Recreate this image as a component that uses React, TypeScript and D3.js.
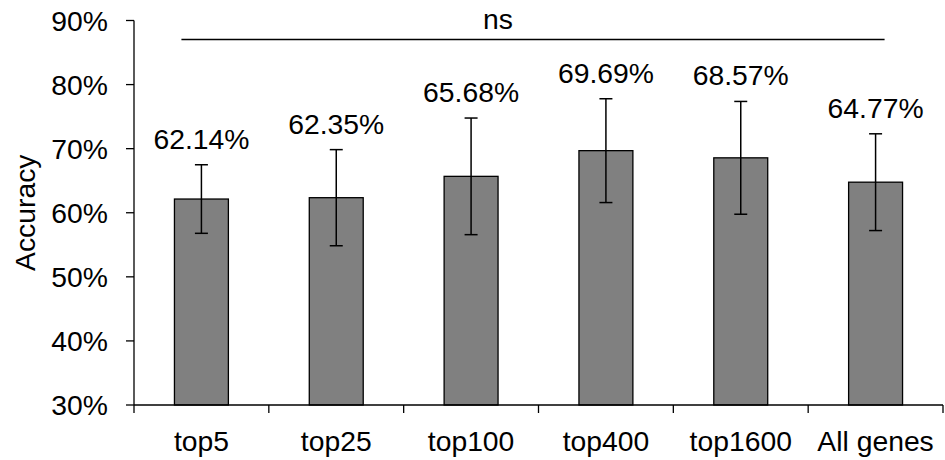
import React from "react";
import * as d3 from "d3";

const categories = ["top5", "top25", "top100", "top400", "top1600", "All genes"];
const accuracy = [0.6214, 0.6235, 0.6568, 0.6969, 0.6857, 0.6477];
const errors = [0.0535, 0.075, 0.091, 0.081, 0.088, 0.0755];
const valueLabels = ["62.14%", "62.35%", "65.68%", "69.69%", "68.57%", "64.77%"];
const yTicks = [0.3, 0.4, 0.5, 0.6, 0.7, 0.8, 0.9];
const yLabel = "Accuracy";
const sigLabel = "ns";

const W = 945;
const H = 460;
const FONT = "Liberation Sans, Arial, Helvetica, sans-serif";

export default function App() {
  const left = 134;
  const right = 943;
  const top = 20.5;
  const bottom = 405;

  const x = d3.scaleBand<string>().domain(categories).range([left, right]).paddingInner(0.6).paddingOuter(0.3);
  const band = d3.scaleBand<string>().domain(categories).range([left, right]);
  const y = d3.scaleLinear().domain([0.3, 0.9]).range([bottom, top]);
  const fmt = d3.format(".0%");
  const bw = x.bandwidth();
  const capW = 13;
  const fs = 28.3;

  const c0 = (x(categories[0]) as number) + bw / 2;
  const cN = (x(categories[categories.length - 1]) as number) + bw / 2;
  const lineX0 = c0 - 20;
  const lineX1 = cN + 9;
  const lineY = 39.5;

  const boundaries = categories.map((c) => band(c) as number).concat([right]);

  return (
    <svg width={W} height={H} style={{ position: "absolute", left: 0, top: 0, background: "#fff" }} fontFamily={FONT}>
      {categories.map((c, i) => (
        <rect
          key={c}
          x={x(c)}
          y={y(accuracy[i])}
          width={bw}
          height={bottom - y(accuracy[i])}
          fill="#808080"
          stroke="#000"
          strokeWidth={1.3}
        />
      ))}
      {categories.map((c, i) => {
        const cx = (x(c) as number) + bw / 2;
        const yt = y(accuracy[i] + errors[i]);
        const yb = y(accuracy[i] - errors[i]);
        return (
          <g key={c} stroke="#000" strokeWidth={1.5}>
            <line x1={cx} x2={cx} y1={yt} y2={yb} />
            <line x1={cx - capW / 2} x2={cx + capW / 2} y1={yt} y2={yt} />
            <line x1={cx - capW / 2} x2={cx + capW / 2} y1={yb} y2={yb} />
          </g>
        );
      })}
      {categories.map((c, i) => {
        const cx = (x(c) as number) + bw / 2;
        const yt = y(accuracy[i] + errors[i]);
        return (
          <text key={c} x={cx} y={yt - 16} textAnchor="middle" fontSize={fs} fill="#000">
            {valueLabels[i]}
          </text>
        );
      })}
      <line x1={left} x2={left} y1={top} y2={bottom} stroke="#000" strokeWidth={1.3} />
      {yTicks.map((t) => (
        <g key={t}>
          <line x1={left - 8} x2={left} y1={y(t)} y2={y(t)} stroke="#000" strokeWidth={1.3} />
          <text x={108} y={y(t)} dy="0.36em" textAnchor="end" fontSize={fs} fill="#000">
            {fmt(t)}
          </text>
        </g>
      ))}
      <line x1={left} x2={right} y1={bottom} y2={bottom} stroke="#000" strokeWidth={1.3} />
      {boundaries.map((b, i) => (
        <line key={i} x1={b} x2={b} y1={bottom} y2={bottom + 8} stroke="#000" strokeWidth={1.3} />
      ))}
      {categories.map((c) => (
        <text key={c} x={(band(c) as number) + band.bandwidth() / 2} y={451} textAnchor="middle" fontSize={fs} fill="#000">
          {c}
        </text>
      ))}
      <text transform={`translate(35, ${(top + bottom) / 2}) rotate(-90)`} textAnchor="middle" fontSize={fs} fill="#000">
        {yLabel}
      </text>
      <line x1={lineX0} x2={lineX1} y1={lineY} y2={lineY} stroke="#000" strokeWidth={1.3} />
      <text x={(band(categories[2]) as number) + band.bandwidth() * 0.7} y={28.5} textAnchor="middle" fontSize={fs} fill="#000">
        {sigLabel}
      </text>
    </svg>
  );
}
